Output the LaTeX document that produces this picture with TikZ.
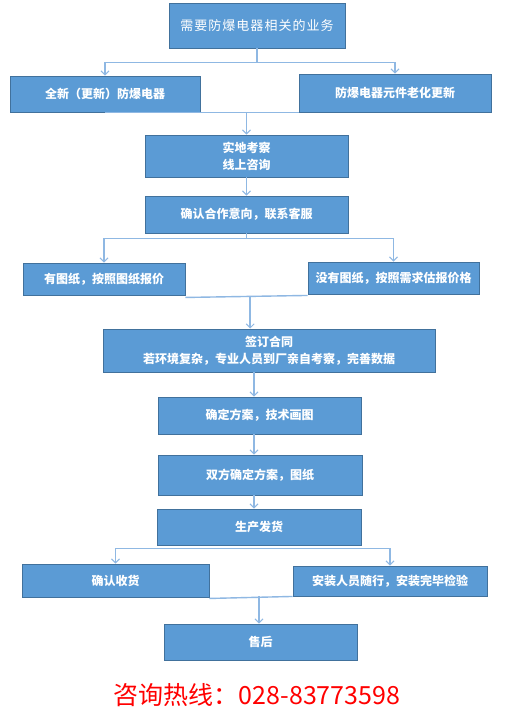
\documentclass[tikz,border=0pt]{standalone}
\usepackage{fontspec}
\setmainfont{Noto Sans CJK SC}
\usetikzlibrary{arrows.meta,calc}
\definecolor{boxfill}{HTML}{5B9BD5}
\definecolor{boxedge}{HTML}{41719C}
\definecolor{linkblue}{HTML}{8FB8E3}
\tikzset{
    box/.style={draw=boxedge,line width=0.9pt,fill=boxfill,text=white,inner sep=0pt,align=center,
        font=\fontsize{12}{17}\selectfont\bfseries},
    link/.style={draw=linkblue,line width=1.4pt},
    flow/.style={link,-{Straight Barb[length=4pt,width=8pt,line width=1pt]}}
}
% optional style, name, centre, width, height, text
\newcommand{\flowbox}[6][]{
    \node[box,minimum width=#4,minimum height=#5,#1] (#2) at (#3) {#6};
}

\begin{document}
\begin{tikzpicture}[x=1pt,y=-1pt]
\useasboundingbox[fill=white] (0,0) rectangle (513,725);
\coordinate (axis) at (254,0);
\flowbox[font=\fontsize{13}{16}\selectfont\addfontfeature{LetterSpace=8}]{need}{257,25.5}{176}{45}{需要防爆电器相关的业务}
\flowbox{new}{105,94}{190}{36}{全新（更新）防爆电器}
\flowbox{aged}{395,93}{192}{38}{防爆电器元件老化更新}
\flowbox{survey}{246.5,156}{203}{42}{实地考察\\线上咨询}
\flowbox{intent}{246.5,214.5}{203}{37}{确认合作意向，联系客服}
\flowbox{drawing}{104,279}{162}{32}{有图纸，按照图纸报价}
\flowbox{nodrawing}{393.5,278}{171}{32}{没有图纸，按照需求估报价格}
\flowbox{contract}{269,350.5}{332}{43}{签订合同\\若环境复杂，专业人员到厂亲自考察，完善数据}
\flowbox{design}{259.5,415.5}{203}{37}{确定方案，技术画图}
\flowbox{confirm}{260,475}{204}{40}{双方确定方案，图纸}
\flowbox{ship}{259,527}{204}{36}{生产发货}
\flowbox{receive}{115.5,580.5}{187}{33}{确认收货}
\flowbox{install}{390,581}{194}{30}{安装人员随行，安装完毕检验}
\flowbox{after}{260.5,642}{193}{36}{售后}
\node[text=red,font=\fontsize{25}{28}\selectfont] (hotline) at (257,695) {咨询热线：028-83773598};

% split and merge
\coordinate (s1) at ($(need.south)+(0,14)$);
\draw[link] (need.south) -- (s1);
\draw[flow] (s1) -| (new.north);
\draw[flow] (s1) -| (aged.north);
\draw[link] (new.south) -- (aged.south west);
\draw[flow] (survey.north |- new.south) -- (survey.north);
\draw[flow] (survey) -- (intent);
\coordinate (s2) at ($(intent.south)+(0,5)$);
\draw[link] (intent.south) -- (s2);
\draw[flow] (s2) -| (drawing.north);
\draw[flow] (s2) -| (nodrawing.north);
\draw[link] ([yshift=-2]drawing.south east) -- ([yshift=-1]nodrawing.south west);
\coordinate (m2) at ($(drawing.south east)!.53!(nodrawing.south west)$);
\draw[flow] ([yshift=-2]m2) -- (m2 |- contract.north);
\draw[flow] (contract.south -| axis) -- (design.north -| axis);
\draw[flow] (design.south -| axis) -- (confirm.north -| axis);
\draw[flow] (confirm.south -| axis) -- (ship.north -| axis);
\coordinate (s3) at ($(ship.south)+(0,3)$);
\draw[flow] (s3) -| (receive.north);
\draw[flow] (s3) -| (install.north);
\draw[link] ([yshift=-1]receive.south east) -- (install.south west);
\draw[flow] ([xshift=-1.5]after.north |- install.south) -- ([xshift=-1.5]after.north);
\end{tikzpicture}
\end{document}
